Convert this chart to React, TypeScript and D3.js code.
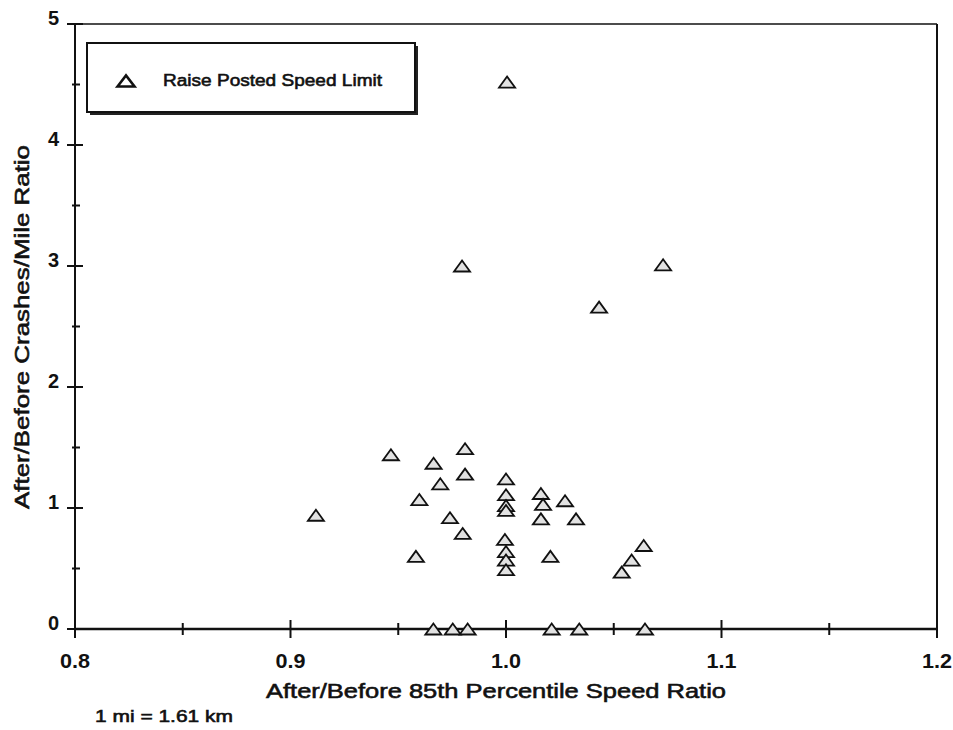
import React from "react";
import * as d3 from "d3";

const speedRatio = [
  1.0005, 0.9796, 1.0729, 1.0432,
  0.9466, 0.9664, 0.981, 0.981, 0.9695, 0.9598, 0.9118, 0.974, 0.9799, 0.9582,
  1.0, 1.0, 1.0, 1.0,
  1.0162, 1.0172, 1.0162, 1.0274, 1.0325,
  0.9995, 1.0, 1.0, 1.0,
  1.0206, 1.0639, 1.0583, 1.0537,
  0.9663, 0.9753, 0.9822, 1.0212, 1.034, 1.0645,
];
const crashRatio = [
  4.52, 3.0, 3.01, 2.66,
  1.44, 1.37, 1.49, 1.28, 1.2, 1.07, 0.94, 0.92, 0.79, 0.6,
  1.24, 1.11, 1.02, 0.98,
  1.12, 1.03, 0.91, 1.06, 0.91,
  0.74, 0.64, 0.57, 0.49,
  0.6, 0.69, 0.57, 0.47,
  0, 0, 0, 0, 0, 0,
];
const xTicks = [0.8, 0.9, 1.0, 1.1, 1.2];
const xTickLabels = ["0.8", "0.9", "1.0", "1.1", "1.2"];
const xMinorTicks = [0.85, 0.95, 1.05, 1.15];
const yTicks = [0, 1, 2, 3, 4, 5];
const yMinorTicks = [0.5, 1.5, 2.5, 3.5, 4.5];
const legendLabel = "Raise Posted Speed Limit";
const xTitle = "After/Before 85th Percentile Speed Ratio";
const yTitle = "After/Before Crashes/Mile Ratio";
const note = "1 mi = 1.61 km";

const W = 953;
const H = 730;
const FONT = "'Liberation Sans', Arial, sans-serif";

function tri(cx: number, cy: number, w: number, h: number) {
  return `M${cx - w / 2},${cy + h / 2}L${cx},${cy - h / 2}L${cx + w / 2},${cy + h / 2}Z`;
}

export default function App() {
  const x = d3.scaleLinear().domain([0.8, 1.2]).range([75, 937]);
  const y = d3.scaleLinear().domain([0, 5]).range([629, 24]);
  const pts = speedRatio.map((v, i) => ({ x: v, y: crashRatio[i] }));
  const heavy = { stroke: "#111", strokeWidth: 0.6 };
  return (
    <svg width={W} height={H} style={{ position: "absolute", left: 0, top: 0 }}>
      <rect x={0} y={0} width={W} height={H} fill="#fff" />
      {/* frame */}
      <line x1={x(0.8)} x2={x(1.2)} y1={y(5)} y2={y(5)} stroke="#111" strokeWidth={1.6} />
      <line x1={x(1.2)} x2={x(1.2)} y1={y(5)} y2={y(0) + 9} stroke="#111" strokeWidth={2} />
      <line x1={x(0.8)} x2={x(0.8)} y1={y(5)} y2={y(0) + 9} stroke="#111" strokeWidth={2} />
      <line x1={x(0.8)} x2={x(1.2)} y1={y(0)} y2={y(0)} stroke="#111" strokeWidth={2.6} />
      {/* x ticks */}
      {xTicks.map((t, i) => (
        <g key={"xt" + i}>
          <line x1={x(t)} x2={x(t)} y1={y(0) - 9} y2={y(0) + 9} stroke="#111" strokeWidth={2} />
          <text x={x(t)} y={668} textAnchor="middle" fontFamily={FONT} fontWeight="bold" fontSize={20} fill="#111" textLength={30} lengthAdjust="spacingAndGlyphs">
            {xTickLabels[i]}
          </text>
        </g>
      ))}
      {xMinorTicks.map((t, i) => (
        <line key={"xm" + i} x1={x(t)} x2={x(t)} y1={y(0) - 6} y2={y(0) + 6} stroke="#111" strokeWidth={2} />
      ))}
      {/* y ticks */}
      {yTicks.map((t, i) => (
        <g key={"yt" + i}>
          <line x1={x(0.8) - 8} x2={x(0.8) + 8} y1={y(t)} y2={y(t)} stroke="#111" strokeWidth={2} />
          <text x={59} y={y(t) + 1} textAnchor="end" fontFamily={FONT} fontWeight="bold" fontSize={20} fill="#111">
            {String(t)}
          </text>
        </g>
      ))}
      {yMinorTicks.map((t, i) => (
        <line key={"ym" + i} x1={x(0.8) - 3} x2={x(0.8) + 5} y1={y(t)} y2={y(t)} stroke="#111" strokeWidth={2} />
      ))}
      {/* legend */}
      <rect x={90} y={46} width={328} height={69} fill="#222" />
      <rect x={87} y={43} width={328} height={69} fill="#fff" stroke="#111" strokeWidth={2} />
      <path d={tri(126, 81, 17, 11)} fill="#fff" stroke="#111" strokeWidth={2.6} />
      <text x={163} y={86} fontFamily={FONT} fontSize={17} fill="#111" {...heavy} textLength={219} lengthAdjust="spacingAndGlyphs">
        {legendLabel}
      </text>
      {/* points */}
      {pts.map((p, i) => (
        <path key={"p" + i} d={tri(x(p.x), y(p.y), 16, 11)} fill="#e2e2e2" stroke="#111" strokeWidth={1.8} />
      ))}
      {/* titles */}
      <text x={496} y={698} textAnchor="middle" fontFamily={FONT} fontSize={21} fill="#111" {...heavy} textLength={460} lengthAdjust="spacingAndGlyphs">
        {xTitle}
      </text>
      <text transform={`translate(29,327) rotate(-90)`} textAnchor="middle" fontFamily={FONT} fontSize={21} fill="#111" {...heavy} textLength={364} lengthAdjust="spacingAndGlyphs">
        {yTitle}
      </text>
      <text x={95} y={722} fontFamily={FONT} fontSize={17} fill="#111" {...heavy} textLength={138} lengthAdjust="spacingAndGlyphs">
        {note}
      </text>
    </svg>
  );
}
